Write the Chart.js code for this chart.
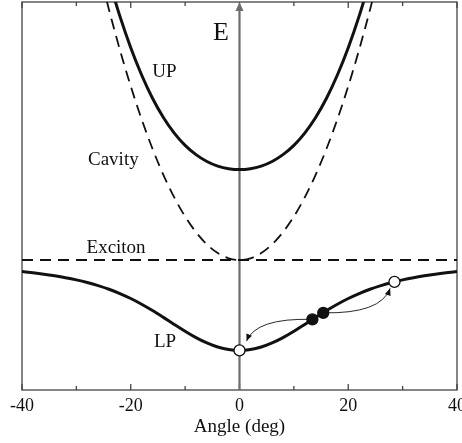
<!DOCTYPE html>
<html>
<head>
<meta charset="utf-8">
<script src="https://cdn.jsdelivr.net/npm/chart.js@4.4.1/dist/chart.umd.min.js"></script>
<style>
  html, body { margin: 0; padding: 0; background: #fff; }
  #wrap { width: 462px; height: 443px; }
</style>
</head>
<body>
<div id="wrap"><canvas id="polariton"></canvas></div>
<script>
/*
-------------------------------------
/// data
-------------------------------------
*/
const lpAngles = [-40,-38,-36,-34,-32,-30,-28,-26,-24,-22,-20,-18,-16,-14,-12,-10,-8,-6,-4,-2,0,
                  2,4,6,8,10,12,14,16,18,20,22,24,26,28,30,32,34,36,38,40];
const lpEnergy = [30.52,30.21,29.85,29.43,28.95,28.38,27.70,26.90,25.97,24.86,23.58,22.11,20.48,18.72,16.91,15.14,13.51,12.13,11.08,10.42,10.20,
                  10.42,11.08,12.13,13.51,15.14,16.91,18.72,20.48,22.11,23.58,24.86,25.97,26.90,27.70,28.38,28.95,29.43,29.85,30.21,30.52];

const upAngles = [-24,-22,-20,-18,-16,-14,-12,-10,-8,-6,-4,-2,0,2,4,6,8,10,12,14,16,18,20,22,24];
const upEnergy = [105.55,96.35,88.22,81.18,75.19,70.23,66.22,63.06,60.66,58.90,57.71,57.03,56.80,
                  57.03,57.71,58.90,60.66,63.06,66.22,70.23,75.19,81.18,88.22,96.35,105.55];

const cavityAngles = [-26,-24,-22,-20,-18,-16,-14,-12,-10,-8,-6,-4,-2,0,2,4,6,8,10,12,14,16,18,20,22,24,26];
const cavityEnergy = [109.21,98.01,87.71,78.30,69.79,62.17,55.45,49.63,44.70,40.67,37.53,35.29,33.95,33.50,
                      33.95,35.29,37.53,40.67,44.70,49.63,55.45,62.17,69.79,78.30,87.71,98.01,109.21];

const excitonAngles = [-40, 40];
const excitonEnergy = [33.5, 33.5];

// polariton populations on the LP branch
const dotAngles = [0, 13.4, 15.4, 28.5];
const dotEnergy = [10.2, 18.2, 19.9, 27.85];
const dotFilled = [false, true, true, false];

// scattering arrows: start, control, end (angle, energy)
const arrowPaths = [
  [[13.4, 18.2], [3.0, 18.6], [1.3, 12.6]],
  [[15.4, 19.9], [26.0, 19.6], [27.7, 26.2]]
];

const xTicks = [-40, -20, 0, 20, 40];
const xMinorTicks = [-30, -10, 10, 30];

const curveLabels = [
  { text: 'UP', x: -13.8, y: 81.9 },
  { text: 'Cavity', x: -23.2, y: 59.2 },
  { text: 'Exciton', x: -22.7, y: 36.7 },
  { text: 'LP', x: -13.7, y: 12.4 }
];

function pairs(xs, ys) {
  return xs.map((x, i) => ({ x: x, y: ys[i] }));
}

const serif = "'Liberation Serif', 'DejaVu Serif', serif";
const ink = '#111';

/*
-------------------------------------
/// frame, E axis, labels, arrows
-------------------------------------
*/
const decorPlugin = {
  id: 'decor',
  beforeDatasetsDraw(chart) {
    const { ctx, chartArea: a, scales } = chart;
    const xs = scales.x;
    ctx.save();

    // box
    ctx.strokeStyle = '#444';
    ctx.lineWidth = 1.3;
    ctx.strokeRect(a.left, a.top, a.right - a.left, a.bottom - a.top);

    // inward ticks, top and bottom
    const tick = (v, len) => {
      const px = xs.getPixelForValue(v);
      ctx.beginPath();
      ctx.moveTo(px, a.bottom); ctx.lineTo(px, a.bottom - len);
      ctx.moveTo(px, a.top); ctx.lineTo(px, a.top + len);
      ctx.stroke();
    };
    xTicks.forEach(v => tick(v, 6));
    xMinorTicks.forEach(v => tick(v, 4));

    // vertical E axis with arrow head
    const x0 = xs.getPixelForValue(0);
    ctx.strokeStyle = '#6d6d6d';
    ctx.fillStyle = '#6d6d6d';
    ctx.lineWidth = 2.2;
    ctx.beginPath();
    ctx.moveTo(x0, a.bottom);
    ctx.lineTo(x0, a.top + 6);
    ctx.stroke();
    ctx.beginPath();
    ctx.moveTo(x0, a.top);
    ctx.lineTo(x0 - 4, a.top + 9);
    ctx.lineTo(x0 + 4, a.top + 9);
    ctx.closePath();
    ctx.fill();
    ctx.restore();
  },
  afterDatasetsDraw(chart) {
    const { ctx, scales } = chart;
    const xs = scales.x, ys = scales.y;
    const P = p => [xs.getPixelForValue(p[0]), ys.getPixelForValue(p[1])];
    ctx.save();

    // texts
    ctx.fillStyle = ink;
    ctx.textAlign = 'center';
    ctx.textBaseline = 'middle';
    ctx.font = '19px ' + serif;
    curveLabels.forEach(l => {
      ctx.fillText(l.text, xs.getPixelForValue(l.x), ys.getPixelForValue(l.y));
    });
    ctx.font = '26px ' + serif;
    ctx.fillText('E', xs.getPixelForValue(-3.4), ys.getPixelForValue(92));

    // arrows
    ctx.strokeStyle = ink;
    ctx.lineWidth = 0.9;
    arrowPaths.forEach(path => {
      const s = P(path[0]), c = P(path[1]), e = P(path[2]);
      ctx.beginPath();
      ctx.moveTo(s[0], s[1]);
      ctx.quadraticCurveTo(c[0], c[1], e[0], e[1]);
      ctx.stroke();
      const ang = Math.atan2(e[1] - c[1], e[0] - c[0]);
      ctx.save();
      ctx.translate(e[0], e[1]);
      ctx.rotate(ang);
      ctx.beginPath();
      ctx.moveTo(0, 0);
      ctx.lineTo(-7, -3);
      ctx.lineTo(-7, 3);
      ctx.closePath();
      ctx.fill();
      ctx.restore();
    });
    ctx.restore();
  }
};

/*
-------------------------------------
/// chart
-------------------------------------
*/
const ctx = document.getElementById('polariton').getContext('2d');
const polChart = new Chart(ctx, {
  type: 'scatter',
  data: {
    datasets: [
      {
        label: 'populations',
        data: pairs(dotAngles, dotEnergy),
        showLine: false,
        pointRadius: 5.5,
        pointBorderWidth: 1.3,
        pointBorderColor: ink,
        pointBackgroundColor: dotFilled.map(f => f ? ink : '#fff')
      },
      {
        label: 'LP',
        data: pairs(lpAngles, lpEnergy),
        showLine: true,
        borderColor: ink,
        borderWidth: 3,
        pointRadius: 0,
        cubicInterpolationMode: 'monotone',
        clip: 0
      },
      {
        label: 'UP',
        data: pairs(upAngles, upEnergy),
        showLine: true,
        borderColor: ink,
        borderWidth: 3,
        pointRadius: 0,
        cubicInterpolationMode: 'monotone',
        clip: 0
      },
      {
        label: 'Cavity',
        data: pairs(cavityAngles, cavityEnergy),
        showLine: true,
        borderColor: ink,
        borderWidth: 1.8,
        borderDash: [11, 7],
        pointRadius: 0,
        cubicInterpolationMode: 'monotone',
        clip: 0
      },
      {
        label: 'Exciton',
        data: pairs(excitonAngles, excitonEnergy),
        showLine: true,
        borderColor: ink,
        borderWidth: 1.8,
        borderDash: [11, 7],
        pointRadius: 0,
        clip: 0
      }
    ]
  },
  options: {
    responsive: true,
    maintainAspectRatio: false,
    animation: false,
    events: [],
    layout: { autoPadding: false, padding: { left: 22, right: 5, top: 2, bottom: 6 } },
    plugins: {
      legend: { display: false },
      tooltip: { enabled: false }
    },
    scales: {
      x: {
        type: 'linear',
        min: -40,
        max: 40,
        afterFit: function(scale) {
          scale.paddingLeft = 0;
          scale.paddingRight = 0;
        },
        ticks: {
          stepSize: 20,
          padding: 7,
          maxRotation: 0,
          color: ink,
          font: { family: serif, size: 18, lineHeight: 1 }
        },
        grid: { display: false, drawTicks: false },
        border: { display: false },
        title: {
          display: true,
          text: 'Angle (deg)',
          color: ink,
          padding: { top: -4, bottom: 0 },
          font: { family: serif, size: 19, lineHeight: 1 }
        }
      },
      y: {
        type: 'linear',
        min: 0,
        max: 100,
        display: false
      }
    }
  },
  plugins: [decorPlugin]
});
</script>
</body>
</html>
